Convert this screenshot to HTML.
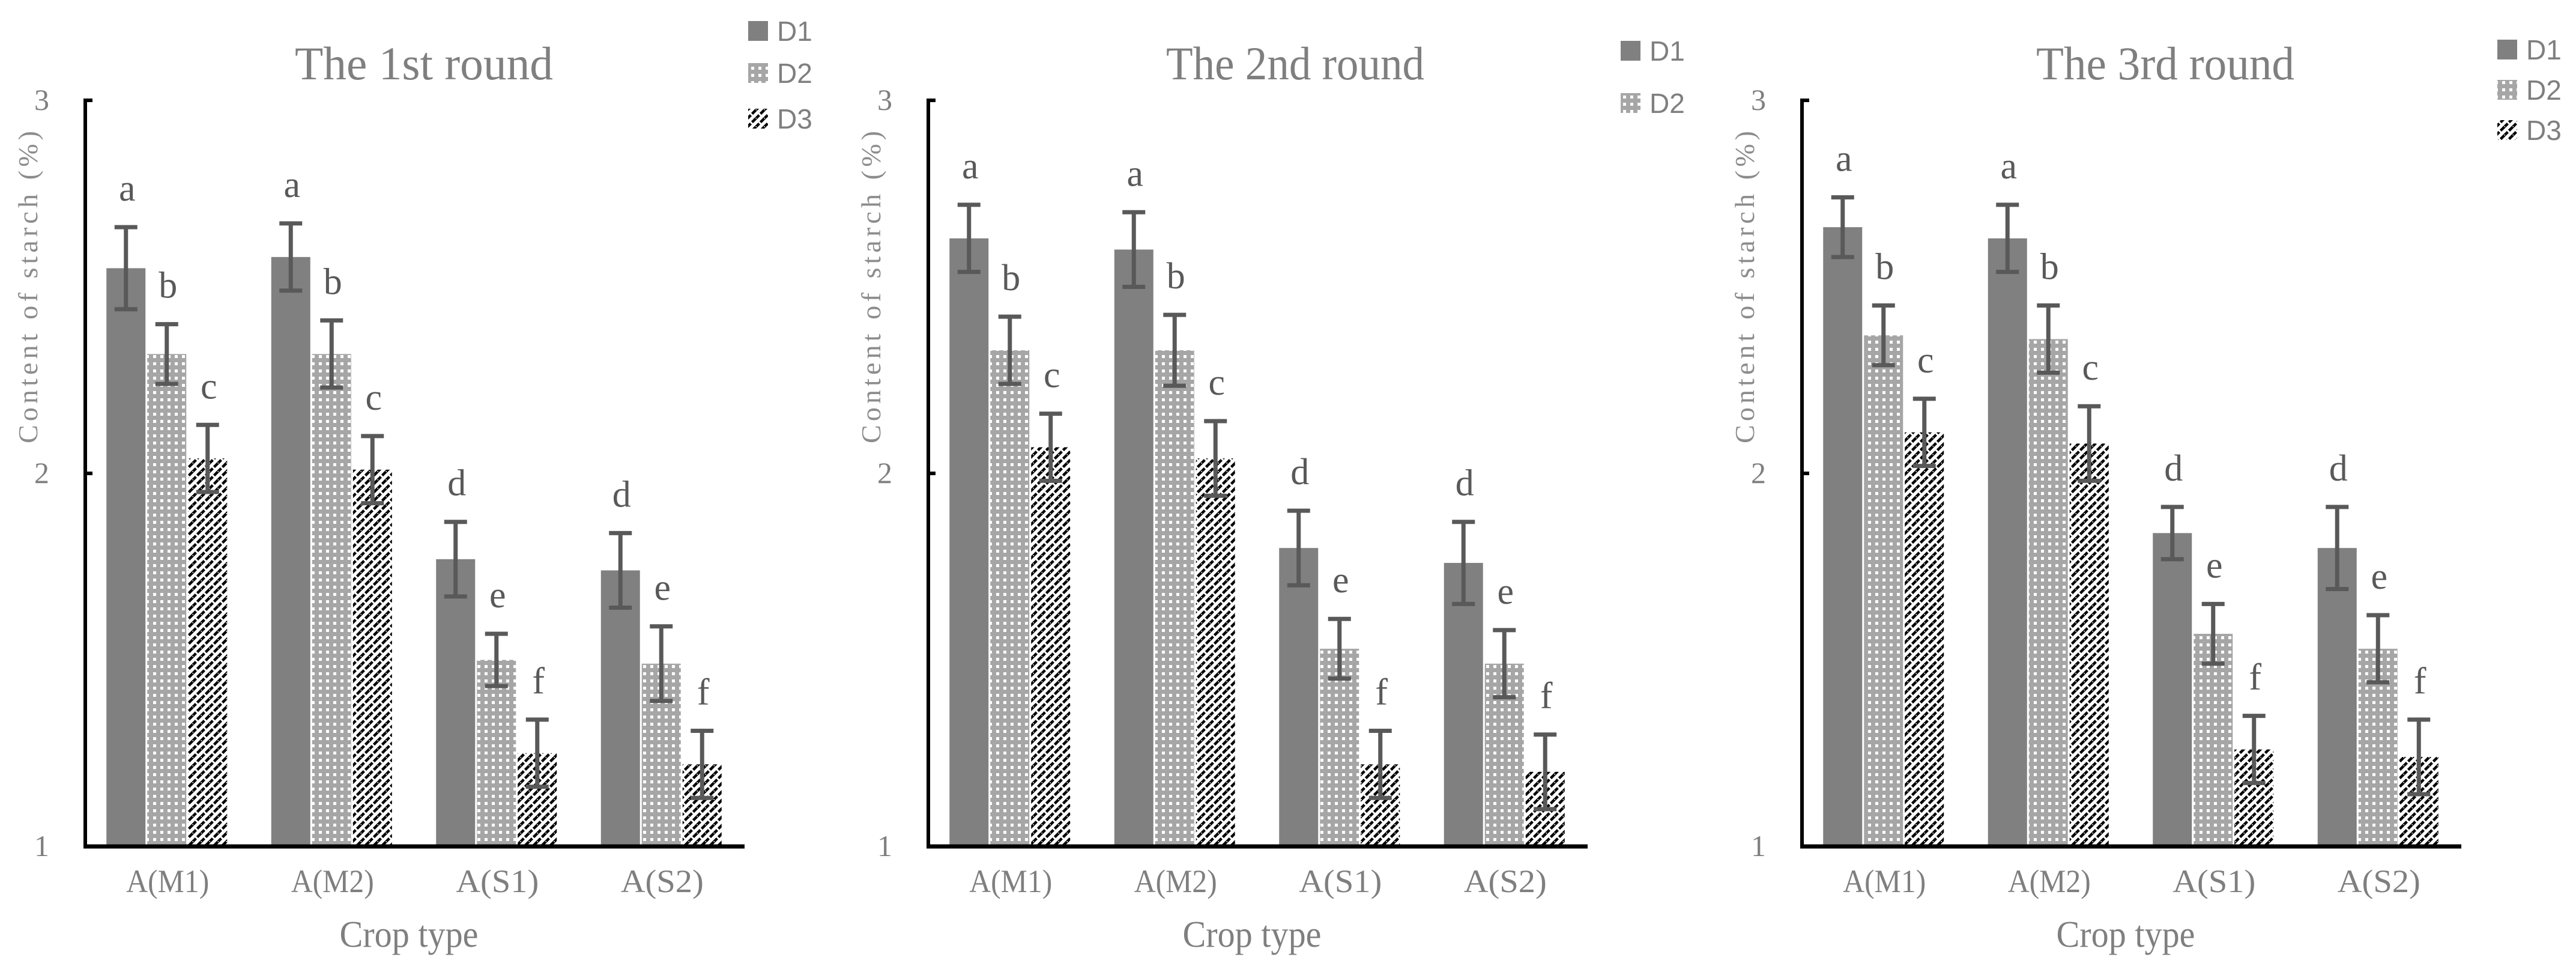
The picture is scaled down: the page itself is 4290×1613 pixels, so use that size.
<!DOCTYPE html>
<html><head><meta charset="utf-8">
<style>
html,body{margin:0;padding:0;background:#fff;}
svg{display:block;}
</style></head>
<body>
<svg id="chart" width="4290" height="1613" viewBox="0 0 4290 1613" xmlns="http://www.w3.org/2000/svg">
<defs>
<pattern id="pD2" patternUnits="userSpaceOnUse" width="12" height="12">
<rect width="12" height="12" fill="#a6a6a6"/>
<rect x="3" y="3" width="5" height="5" fill="#ffffff"/>
</pattern>
<pattern id="pD3" patternUnits="userSpaceOnUse" width="14" height="14">
<rect width="14" height="14" fill="#ffffff"/>
<path d="M-2,16 L16,-2" stroke="#000" stroke-width="4.5" stroke-dasharray="9,3"/>
<path d="M-2,2 L2,-2 M12,16 L16,12" stroke="#000" stroke-width="4.5"/>
</pattern>
</defs>
<g id="root"></g>
</svg>
<script>
const categories = ["A(M1)","A(M2)","A(S1)","A(S2)"];
const seriesNames = ["D1","D2","D3"];
const titles = ["The 1st round","The 2nd round","The 3rd round"];
const yTicks = [1,2,3];
// round 1
const r1D1 = [2.55,2.58,1.77,1.74];
const r1D2 = [2.32,2.32,1.50,1.49];
const r1D3 = [2.04,2.01,1.25,1.22];
const r1E1 = [0.11,0.09,0.10,0.10];
const r1E2 = [0.08,0.09,0.07,0.10];
const r1E3 = [0.09,0.09,0.09,0.09];
// round 2
const r2D1 = [2.63,2.60,1.80,1.76];
const r2D2 = [2.33,2.33,1.53,1.49];
const r2D3 = [2.07,2.04,1.22,1.20];
const r2E1 = [0.09,0.10,0.10,0.11];
const r2E2 = [0.09,0.095,0.08,0.09];
const r2E3 = [0.09,0.10,0.09,0.10];
// round 3
const r3D1 = [2.66,2.63,1.84,1.80];
const r3D2 = [2.37,2.36,1.57,1.53];
const r3D3 = [2.11,2.08,1.26,1.24];
const r3E1 = [0.08,0.09,0.07,0.11];
const r3E2 = [0.08,0.09,0.08,0.09];
const r3E3 = [0.09,0.10,0.09,0.10];
const letters = [["a","b","c"],["a","b","c"],["d","e","f"],["d","e","f"]];

const rounds = [
  {vals:[r1D1,r1D2,r1D3], errs:[r1E1,r1E2,r1E3], ax:142, tOff:564, leg:{x:1246, ys:[35,105,181], n:3}},
  {vals:[r2D1,r2D2,r2D3], errs:[r2E1,r2E2,r2E3], ax:1546, tOff:611, leg:{x:2699, ys:[68,155], n:2}},
  {vals:[r3D1,r3D2,r3D3], errs:[r3E1,r3E2,r3E3], ax:3001, tOff:605, leg:{x:4159, ys:[66,133,200], n:3}}
];
const fills = ["#808080","url(#pD2)","url(#pD3)"];
const NS = "http://www.w3.org/2000/svg";
const root = document.getElementById("root");
function mk(tag, attrs, parent, text){
  const e = document.createElementNS(NS, tag);
  for (const k in attrs) e.setAttribute(k, attrs[k]);
  if (text !== undefined) e.textContent = text;
  (parent||root).appendChild(e);
  return e;
}
const Y0 = 1409, Y1 = 167, vMin = 1, vMax = 3, plotW = 1098;
function yScale(v){ return Y0 - (v - vMin) / (vMax - vMin) * (Y0 - Y1); }
const serif = '"Liberation Serif", serif';
const sans = '"Liberation Sans", sans-serif';

rounds.forEach((r, ri) => {
  const g = mk("g", {});
  
  
  const ax = r.ax;
  const band = plotW / categories.length;
  const barW = 68;
  function xScale(ci, si){ return ax + band*ci + band/2 - 1.5*barW + si*barW; }
  // title
  const t = mk("text", {x: ax + r.tOff, y: 132, "font-family": serif, "font-size": 78, fill: "#7f7f7f", "text-anchor": "middle", textLength: 430, lengthAdjust: "spacingAndGlyphs"}, g, titles[ri]);
  
  
  // y-axis title
  const yt = mk("text", {x: 0, y: 0, transform: `translate(${ax - 80},478) rotate(-90)`, "font-family": serif, "font-size": 46, fill: "#8c8c8c", "text-anchor": "middle", textLength: 520, lengthAdjust: "spacing"}, g, "Content of starch (%)");
  
  
  // y ticks
  yTicks.forEach(tv => {
    const tl = mk("text", {x: ax - 60, y: yScale(tv) + 16, "font-family": serif, "font-size": 50, fill: "#7f7f7f", "text-anchor": "end"}, g, String(tv));
    
    
    const tk = mk("line", {x1: ax, x2: ax + 12, y1: yScale(tv), y2: yScale(tv), stroke: "#000", "stroke-width": 6}, g);
    
    
  });
  // bars
  categories.forEach((c, ci) => {
    r.vals.forEach((arr, si) => {
      const v = arr[ci], e = r.errs[si][ci];
      const x = xScale(ci, si);
      const b = mk("rect", {x: x, y: yScale(v), width: barW - 3, height: Y0 - yScale(v), fill: fills[si]}, g);
      
      
      const cx = x + (barW-3)/2;
      const eb = mk("path", {d: `M${cx},${yScale(v+e)} L${cx},${yScale(v-e)} M${cx-19},${yScale(v+e)} L${cx+19},${yScale(v+e)} M${cx-19},${yScale(v-e)} L${cx+19},${yScale(v-e)}`, stroke: "#595959", "stroke-width": 7, fill: "none"}, g);
      
      
      const lt = mk("text", {x: cx + 2, y: yScale(v+e) - 44, "font-family": serif, "font-size": 62, fill: "#595959", "text-anchor": "middle"}, g, letters[ci][si]);
      
      
    });
    const cl = mk("text", {x: ax + band*ci + band/2, y: 1485, "font-family": serif, "font-size": 54, fill: "#7f7f7f", "text-anchor": "middle", textLength: 138, lengthAdjust: "spacingAndGlyphs"}, g, c);
    
    
  });
  // axes
  const yl = mk("line", {x1: ax, x2: ax, y1: Y1 - 3, y2: Y0 + 3, stroke: "#000", "stroke-width": 6}, g);
  
  
  const xl = mk("line", {x1: ax - 3, x2: ax + plotW, y1: Y0, y2: Y0, stroke: "#000", "stroke-width": 7}, g);
  
  
  const xt = mk("text", {x: ax + plotW/2 - 10, y: 1576, "font-family": serif, "font-size": 62, fill: "#7f7f7f", "text-anchor": "middle", textLength: 231, lengthAdjust: "spacingAndGlyphs"}, g, "Crop type");
  
  
  // legend
  for (let i = 0; i < r.leg.n; i++) {
    const ly = r.leg.ys[i];
    const lg = mk("g", {}, g);
    
    
    mk("rect", {x: r.leg.x, y: ly, width: 33, height: 33, fill: fills[i]}, lg);
    mk("text", {x: r.leg.x + 48, y: ly + 33, "font-family": sans, "font-size": 46, fill: "#7f7f7f"}, lg, seriesNames[i]);
  }
});
</script>
</body></html>
